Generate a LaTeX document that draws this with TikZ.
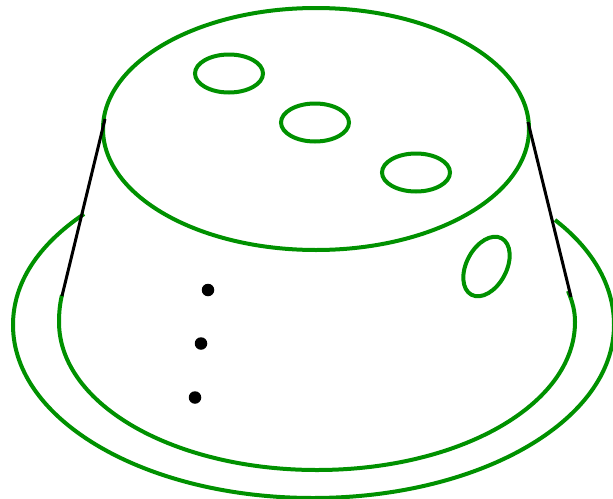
\documentclass[tikz,border=0pt]{standalone}
\definecolor{grn}{RGB}{0,145,0}
\tikzset{gline/.style={draw=grn,line width=4pt},bline/.style={draw=black,line width=3pt},dotn/.style={circle,fill=black,inner sep=0pt,minimum size=12.5pt}}
\begin{document}
\begin{tikzpicture}[x=1pt,y=-1pt]
\useasboundingbox (0,0) rectangle (613,498);
\clip (0,0) rectangle (613,498);
\draw[gline] (316,129) ellipse [x radius=213, y radius=121];
\draw[gline] (229,73.5) ellipse [x radius=34, y radius=19];
\draw[gline] (315,122.5) ellipse [x radius=34, y radius=19];
\draw[gline] (416,172.5) ellipse [x radius=34, y radius=19];
\draw[gline,rotate around={62:(486.5,266.5)}] (486.5,266.5) ellipse [x radius=32, y radius=20];
\draw[gline] (62,295) .. controls (60,303) and (59,312) .. (59,322) .. controls (59,405) and (175,470) .. (317,470) .. controls (459,470) and (575,405) .. (575,322) .. controls (575,312) and (573,303) .. (568,291);
\draw[gline] (84,214) .. controls (38,245) and (13,283) .. (13,325) .. controls (13,421) and (147,498) .. (313,498) .. controls (479,498) and (614,421) .. (614,325) .. controls (614,283) and (590,247) .. (555,220);
\draw[bline] (105,119) -- (62,296);
\draw[bline] (528,122) -- (571,297);
\node[dotn] (d1) at (208,290) {};
\node[dotn] (d2) at (201,343.5) {};
\node[dotn] (d3) at (195,397.5) {};
\end{tikzpicture}
\end{document}
